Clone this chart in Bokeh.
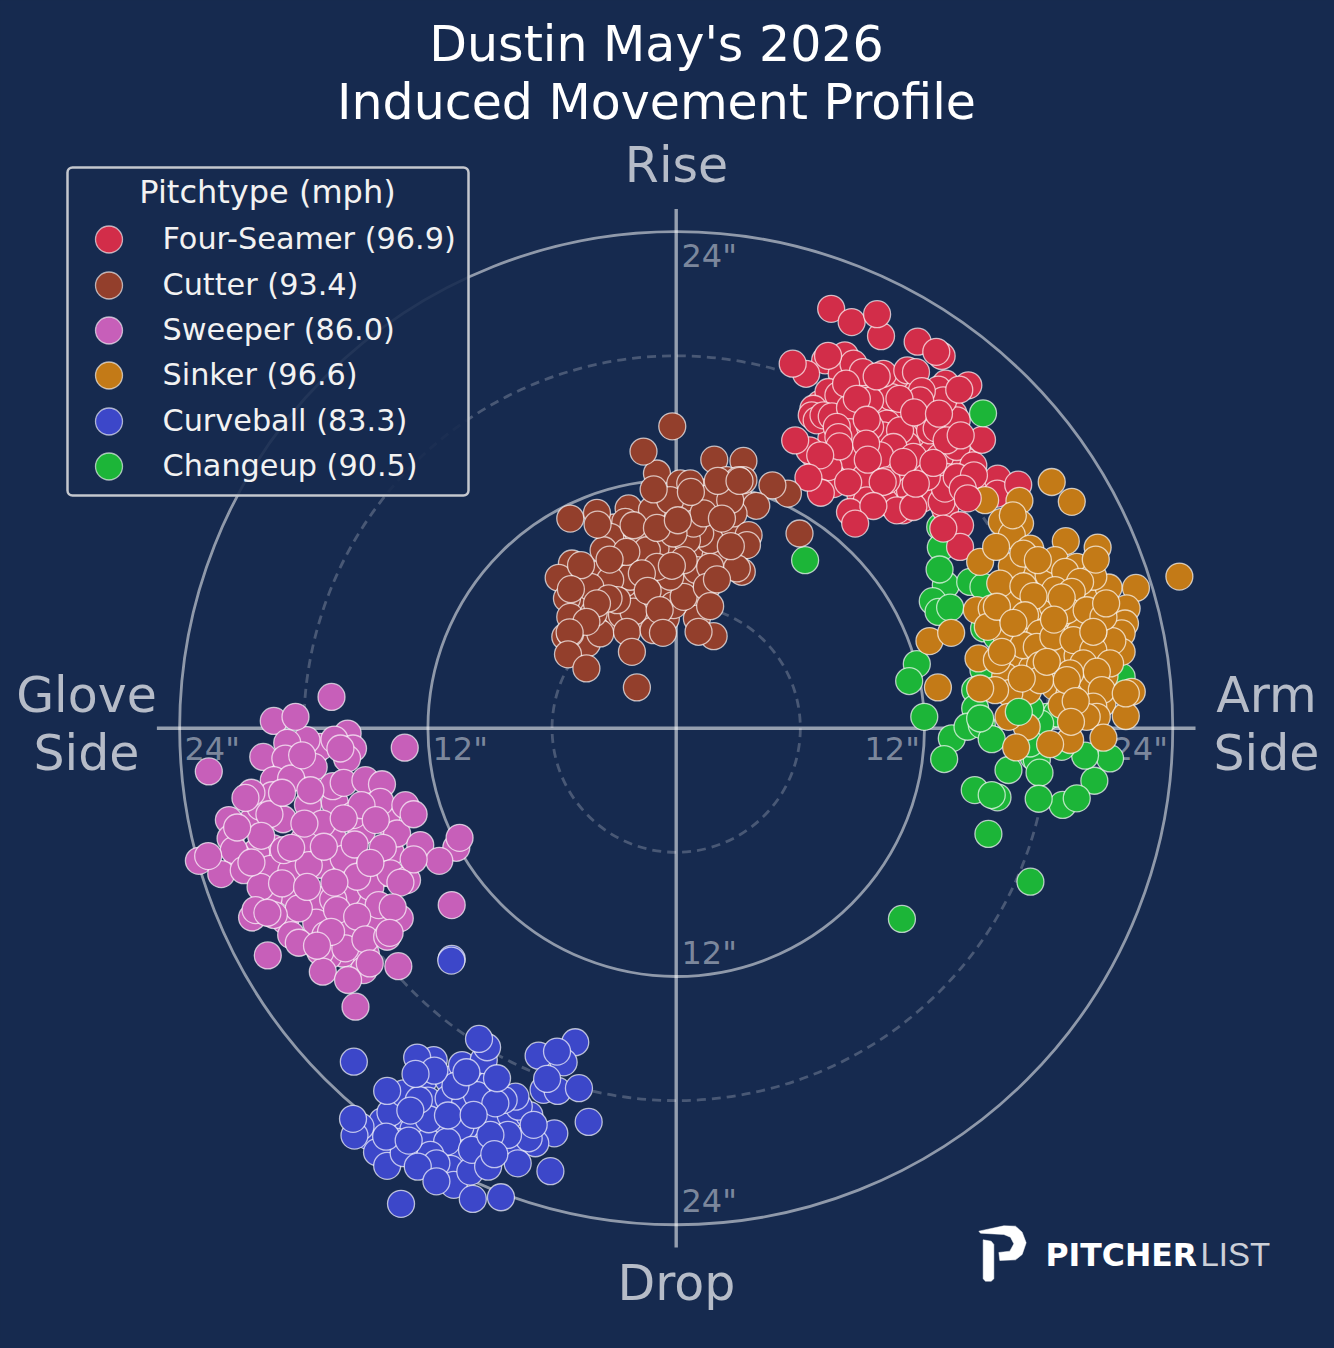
from bokeh.plotting import figure
from bokeh.models import Range1d
from bokeh.core.properties import value
from bokeh.embed import file_html
from bokeh.resources import INLINE

# horizontal / vertical induced movement in inches, bottom of each stack first
four_seamer_hidden = [
(7.9,15.0),(9.0,15.2),(10.0,15.4),(11.0,15.1),(8.7,14.0),(9.7,13.6),(10.9,14.9),(11.9,13.4),(12.9,14.7),(8.2,13.3),
(9.2,12.5),(10.6,12.2),(11.2,12.9),(12.7,12.4),(7.9,12.2),(8.9,11.3),(10.0,11.2),(11.9,11.1),(13.0,10.6),(9.7,16.4),
(10.6,16.6),(12.3,15.5),(13.4,15.2),(8.9,16.8),(10.3,15.1),(14.0,12.9),(13.2,13.0),(14.6,11.7),(11.4,14.2),(9.5,14.0),
(8.0,14.9),(7.6,11.8),(8.3,15.8),(9.0,16.2),(10.4,16.0),(7.5,14.0),(8.4,12.0),(10.9,11.7),
]
four_seamer = [
(6.96,15.68),(7.20,17.78),(8.15,18.02),(8.00,17.13),(8.57,17.62),(10.01,17.13),(11.17,17.29),(13.02,16.65),
(7.36,16.25),(7.84,16.09),(9.37,15.84),(12.67,16.36),(6.63,15.44),(6.55,15.12),(6.79,14.88),(7.12,15.12),
(7.52,15.07),(8.40,15.49),(10.18,14.72),(12.11,14.88),(8.40,14.31),(10.01,14.15),(11.14,13.67),(12.27,14.39),
(12.59,14.48),(10.82,14.39),(10.50,13.59),(9.85,12.62),(6.63,13.27),(8.57,12.95),(9.85,13.19),(11.87,12.62),
(12.75,13.11),(13.07,12.14),(13.56,13.59),(7.36,12.62),(9.13,12.14),(11.30,11.50),(9.21,11.01),(10.98,10.53),
(10.09,10.93),(10.66,10.53),(11.46,10.69),(12.83,10.93),(12.99,11.58),(13.72,9.81),(13.72,8.76),(8.40,10.45),
(14.36,12.70),(15.54,12.06),(15.52,11.34),(16.53,11.77),(14.12,16.57),(12.83,17.99),(11.67,18.68),(9.90,18.95),
(6.28,17.13),(6.44,13.43),(5.75,13.91),(6.99,11.38),(14.78,13.94),(13.56,14.88),(13.07,13.91),(11.46,13.11),
(7.76,14.56),(9.37,14.56),(11.62,16.17),(12.91,15.84),(10.18,11.98),(12.11,12.14),(13.56,12.14),
(7.49,20.27),(8.48,19.63),(9.71,20.01),(12.57,18.19),(5.63,17.62),(7.34,18.00),(9.02,17.21),(9.69,17.00),
(11.59,17.21),(13.68,16.36),(11.87,16.29),(8.21,16.65),(11.79,15.84),(8.73,15.92),(10.79,15.92),(11.50,15.26),
(12.70,15.20),(9.21,14.91),(7.84,14.07),(7.89,13.62),(9.18,13.75),(6.96,13.19),(13.75,14.15),(9.26,12.98),
(10.98,12.87),(12.43,12.82),(14.39,12.22),(6.39,12.11),(8.31,11.88),(9.98,11.90),(11.58,11.82),(9.53,10.74),
(8.65,9.89),(12.91,9.65),
]
four_seamer_late = [(13.85,11.58),(14.09,11.11)]

cutter_hidden = [
(-4.6,6.6),(-4.3,5.9),(-3.3,5.3),(-2.6,5.9),(-1.8,6.2),(-0.8,6.7),(0.2,7.0),(0.9,6.0),(-0.3,8.6),(-2.5,7.0),
(-3.5,7.6),(-2.6,8.0),(-1.0,8.7),(0.7,8.6),(1.9,8.3),(2.9,8.6),(2.6,9.8),(1.6,10.2),(-0.4,10.5),(-1.9,10.2),
(-3.0,9.7),(0.8,10.7),(1.2,11.4),(-4.7,5.0),(-3.9,4.8),(-1.5,5.2),(-0.5,5.3),(1.0,5.3),(2.2,8.1),(-2.0,8.8),
(-3.0,8.9),(-0.4,6.3),(-4.7,7.2),(3.2,10.9),
]
cutter = [
(1.84,12.98),(3.25,12.92),(-0.93,12.31),(-1.58,13.37),(-0.19,14.59),(5.40,11.34),(4.65,11.74),(5.96,9.41),
(3.87,10.75),(-5.12,10.13),(-3.83,10.41),(-2.30,10.62),(-2.46,9.97),(0.20,11.83),(0.68,11.83),(1.72,11.18),
(2.45,11.99),(3.25,11.99),(3.01,11.99),(2.77,10.38),(3.50,9.33),(3.42,8.85),(3.17,7.56),(2.93,7.72),
(1.64,9.09),(1.16,9.41),(0.52,9.09),(0.84,9.89),(-0.13,9.41),(-1.58,9.09),(-3.19,9.25),(-1.17,10.54),
(-0.29,11.02),(1.32,10.38),(2.61,11.02),(-3.51,8.60),(-5.04,7.96),(-5.68,7.27),(-5.28,6.27),(-5.12,5.38),
(-5.36,4.42),(-4.31,4.10),(-3.67,4.58),(-5.12,4.58),(-2.62,5.47),(-2.06,5.63),(-2.38,4.66),(-1.09,4.74),
(-0.13,5.95),(1.00,7.64),(1.64,7.80),(0.36,6.35),(1.48,6.83),(-0.29,7.32),(-1.42,8.60),(-2.22,7.32),
(-3.19,7.16),(-4.15,6.83),(-3.99,5.55),(-2.86,6.19),(-0.93,7.80),(0.36,8.12),(1.81,4.45),
(0.71,11.42),(-1.09,11.54),(2.01,11.95),(3.06,11.95),(-3.80,9.84),(-2.06,9.81),(-0.93,9.68),(0.08,10.05),
(2.21,10.13),(2.64,8.80),(-2.41,8.52),(-3.22,8.15),(-4.60,7.88),(-0.21,7.85),(-1.66,7.48),(1.97,7.19),
(-5.09,6.72),(-1.38,6.64),(-3.27,6.27),(-3.83,6.03),(-0.80,5.71),(1.64,5.90),(-4.34,5.14),(-5.15,4.63),
(1.08,4.66),(-0.64,4.61),(-2.14,3.69),(-5.23,3.57),(-4.34,2.89),(-1.90,1.97),
]

sweeper_hidden = [
(-20.5,-4.5),(-19.0,-4.4),(-17.8,-3.7),(-16.5,-3.6),(-16.6,-5.3),(-18.0,-5.4),(-19.5,-5.8),(-20.3,-6.0),(-19.6,-6.8),
(-18.6,-6.9),(-17.2,-6.6),(-15.9,-6.9),(-15.2,-5.0),(-13.8,-6.0),(-14.9,-8.6),(-15.9,-8.0),(-17.3,-8.3),(-18.6,-8.0),
(-19.7,-8.2),(-17.4,-9.4),(-15.9,-9.6),(-14.5,-9.6),(-18.0,-2.4),(-17.5,-1.2),(-19.3,-1.9),(-16.6,-2.8),(-15.6,-4.2),
(-14.0,-4.5),(-21.2,-6.2),(-14.2,-7.0),(-18.9,-9.3),(-17.2,-0.9),(-20.1,-3.8),(-16.1,-10.9),(-15.0,-10.9),(-16.8,-11.0),
]
sweeper = [
(-16.66,1.51),(-19.45,0.35),(-15.88,-0.26),(-17.87,-0.58),(-18.80,-0.71),(-16.52,-0.55),(-15.62,-0.98),
(-15.91,-1.47),(-13.12,-0.94),(-22.59,-2.09),(-19.96,-1.39),(-18.89,-1.47),(-17.52,-1.87),(-19.45,-2.51),
(-18.61,-2.43),(-19.53,-3.24),(-20.53,-3.12),(-20.82,-3.37),(-16.07,-2.64),(-15.02,-2.51),(-14.22,-2.71),
(-14.30,-3.56),(-13.09,-3.72),(-15.21,-3.72),(-17.11,-4.61),(-19.66,-4.16),(-21.62,-4.44),(-21.54,-5.33),
(-20.06,-5.20),(-13.49,-5.09),(-12.37,-5.65),(-14.18,-5.78),(-18.97,-5.89),(-21.38,-5.89),(-10.63,-5.78),
(-11.45,-6.41),(-16.07,-6.30),(-17.76,-6.62),(-23.07,-6.41),(-21.99,-7.05),(-20.90,-6.86),(-20.09,-7.67),
(-14.78,-7.67),(-13.81,-7.02),(-13.01,-7.34),(-15.42,-7.18),(-18.24,-8.71),(-16.58,-8.28),(-16.39,-8.79),
(-14.38,-8.55),(-13.36,-9.19),(-15.42,-9.11),(-20.50,-9.15),(-20.33,-8.79),(-19.45,-9.03),(-18.61,-10.00),
(-18.24,-10.37),(-16.95,-10.00),(-17.20,-10.80),(-15.99,-10.64),(-15.02,-10.21),(-13.97,-10.08),(-19.74,-10.98),
(-17.08,-11.77),(-15.10,-11.69),(-13.43,-11.50),(-10.85,-8.55),
(-18.40,0.55),(-16.23,-0.98),(-18.08,-1.31),(-19.05,-3.12),(-17.68,-3.00),(-16.07,-4.36),(-12.69,-4.16),
(-14.52,-4.44),(-17.97,-4.61),(-21.22,-4.80),(-17.03,-5.73),(-15.54,-5.62),(-18.61,-5.78),(-20.53,-6.49),
(-22.62,-6.18),(-10.47,-5.30),(-12.69,-6.34),(-14.78,-6.51),(-16.52,-7.46),(-19.05,-7.50),(-17.84,-7.67),
(-13.33,-7.46),(-13.70,-8.66),(-19.76,-8.92),(-16.68,-9.84),(-17.36,-10.51),(-13.85,-9.89),(-14.81,-11.37),
(-15.86,-12.17),(-15.50,-13.46),
]

sinker_hidden = [
(17.0,7.4),(18.0,7.4),(19.0,7.0),(20.0,6.4),(20.9,6.8),(16.2,6.0),(17.4,5.5),(19.0,5.4),(21.1,5.5),(15.9,4.6),
(16.9,4.6),(19.0,4.3),(18.4,3.5),(19.4,3.5),(20.5,4.2),(20.0,2.5),(16.5,3.3),(15.9,2.5),(17.0,1.8),(18.3,2.0),
(19.5,2.0),(20.7,2.5),(19.0,1.6),(20.6,1.2),(18.2,5.9),(18.0,4.8),(17.2,2.9),(16.1,1.7),
]
sinker = [
(18.15,11.90),(19.12,10.94),(14.93,11.02),(16.59,10.99),(15.74,9.97),(16.62,9.89),(16.22,9.33),(14.69,8.04),
(18.83,9.04),(20.37,8.73),(22.22,6.78),(24.32,7.33),(21.77,5.79),(21.69,5.06),(21.53,4.58),(21.53,3.69),
(21.08,4.21),(20.16,4.66),(19.52,4.66),(16.22,7.83),(17.11,8.68),(16.78,8.44),(18.31,8.12),(19.36,7.80),
(18.80,7.56),(20.16,7.32),(19.52,7.07),(15.66,6.99),(16.78,6.86),(18.31,6.67),(19.12,6.59),(17.27,6.38),
(14.53,5.71),(15.25,5.79),(15.06,4.90),(16.86,5.46),(17.59,4.58),(18.88,5.70),(19.84,5.70),(20.65,5.38),
(12.24,4.21),(13.29,4.61),(12.65,1.97),(14.61,3.37),(15.50,3.29),(16.78,4.01),(17.43,3.93),(18.23,4.42),
(19.20,4.26),(20.16,3.77),(20.97,3.13),(19.68,3.13),(19.04,2.65),(20.33,2.73),(17.59,3.05),(17.59,2.32),
(20.57,1.84),(22.02,1.76),(21.73,0.59),(18.63,1.12),(20.16,1.04),(20.33,0.55),(19.84,0.55),(19.04,-0.57),
(16.94,0.07),(16.06,0.55),(15.41,1.84),
(16.27,10.29),(15.46,8.76),(20.28,8.15),(17.48,8.12),(18.63,6.32),(20.78,6.03),(15.50,5.87),(16.30,5.09),
(18.26,5.25),(20.16,4.66),(15.74,3.69),(17.91,3.21),(16.70,2.40),(18.88,2.32),(21.73,1.68),(19.31,1.31),
(19.08,0.31),(20.65,-0.46),(18.07,-0.77),(16.43,-0.93),(14.69,1.92),
]

curveball_hidden = [
(-12.2,-17.0),(-11.0,-17.0),(-9.7,-16.7),(-9.0,-17.2),(-13.1,-18.9),(-12.0,-18.0),(-11.0,-17.9),(-10.2,-18.1),
(-9.0,-18.7),(-8.0,-18.7),(-7.1,-18.7),(-12.7,-19.4),(-11.5,-19.3),(-10.0,-19.6),(-9.2,-20.1),(-7.7,-20.1),
(-12.0,-20.0),(-10.6,-20.6),(-13.5,-20.0),(-12.7,-20.7),(-10.9,-21.3),(-14.9,-19.7),(-14.2,-19.0),
]
curveball = [
(-10.85,-11.15),(-15.58,-16.12),(-11.72,-16.04),(-10.35,-16.28),(-9.30,-16.04),(-9.14,-15.42),(-4.88,-15.18),
(-6.65,-15.83),(-5.44,-16.15),(-6.41,-17.48),(-5.73,-17.53),(-4.23,-19.03),(-5.89,-19.58),(-6.81,-20.06),
(-7.13,-19.82),(-7.61,-18.29),(-7.77,-17.81),(-8.34,-17.97),(-9.63,-17.73),(-10.43,-19.26),(-11.96,-18.90),
(-11.07,-19.98),(-13.81,-18.58),(-13.17,-17.65),(-12.44,-17.97),(-15.26,-19.26),(-15.55,-19.69),(-14.46,-20.49),
(-13.97,-21.15),(-13.17,-20.54),(-11.88,-20.62),(-11.59,-21.03),(-10.75,-22.07),(-9.95,-21.43),(-9.87,-20.38),
(-9.09,-21.19),(-7.66,-21.03),(-6.08,-21.41),(-13.30,-22.99),(-12.52,-15.92),
(-9.53,-15.02),(-5.76,-15.63),(-6.24,-16.95),(-4.70,-17.40),(-6.89,-19.17),(-8.13,-19.66),(-8.98,-19.66),
(-8.74,-18.13),(-10.67,-17.29),(-11.69,-16.55),(-12.60,-16.71),(-13.97,-17.53),(-12.85,-18.48),(-11.03,-18.72),
(-9.79,-18.69),(-15.62,-18.88),(-14.02,-19.74),(-12.93,-19.93),(-12.49,-21.19),(-11.59,-21.90),(-9.83,-22.75),
(-8.47,-22.67),(-8.79,-20.59),(-10.14,-16.63),(-8.66,-16.92),(-10.87,-11.23),
]

changeup = [
(12.76,9.73),(12.79,8.73),(13.03,6.91),(12.40,6.14),(12.68,5.62),(14.21,7.07),(14.85,6.83),(11.63,3.10),
(14.88,4.82),(15.50,4.42),(14.85,2.81),(14.45,1.84),(14.45,0.96),(13.32,-0.49),(14.08,0.07),(14.77,0.15),
(15.25,-0.53),(16.06,-2.02),(17.27,-1.38),(17.43,-1.54),(17.56,-2.15),(18.68,-3.71),(17.52,-3.41),(20.21,-2.54),
(20.97,-1.46),(19.76,-1.33),(18.63,-0.90),(14.43,-2.99),(15.53,-3.34),(15.25,-3.23),(15.09,-5.11),(17.12,-7.42),
(10.91,-9.22),(16.78,1.68),(16.30,2.24),(17.91,0.55),(18.39,0.71),(17.59,0.23),(17.10,-0.74),(21.53,2.48),
(20.81,3.29),(20.33,5.06),(17.11,0.96),(12.73,7.67),(13.24,5.83),(11.26,2.28),(11.99,0.55),(12.95,-1.49),
(19.36,-3.39),(6.23,8.12),
]
changeup_late = [(14.83,15.22),(14.69,0.47),(16.56,0.79)]

ring_solid = [12, 24]
ring_dashed = [6, 18]
legend_labels = ["Four-Seamer (96.9)", "Cutter (93.4)", "Sweeper (86.0)",
                 "Sinker (96.6)", "Curveball (83.3)", "Changeup (90.5)"]
legend_colors = ["#d22d49", "#933f2c", "#c75fb9", "#c37a17", "#3c47c9", "#1cb538"]
FS, CT, SW, SI, CU, CH = legend_colors

BG = "#162a4f"
S = 20.69
CX, CY = 675.7, 727.7
dx = lambda px: (px - CX) / S
dy = lambda py: (CY - py) / S

p = figure(width=1326, height=1340, output_backend="svg", toolbar_location=None,
           x_range=Range1d(dx(0), dx(1326)), y_range=Range1d(dy(1340), dy(0)),
           min_border=0, outline_line_color=None, background_fill_color=BG,
           border_fill_color=BG)
p.axis.visible = False
p.grid.visible = False

GRID = "#ffffff"
p.circle(x=[0, 0], y=[0, 0], radius=ring_solid, fill_color=None, line_color=GRID,
         line_alpha=0.52, line_width=2.8)
p.circle(x=[0, 0], y=[0, 0], radius=ring_dashed, fill_color=None, line_color=GRID,
         line_alpha=0.22, line_width=2.8, line_dash="9 6")
p.segment(x0=[-25.1, 0], y0=[0, -25.1], x1=[25.1, 0], y1=[0, 25.1], line_color=GRID,
          line_alpha=0.55, line_width=3.4)

# ring values
FONT = value("DejaVu Sans")
tick_x = [dx(184), dx(432), dx(864), dx(1112), dx(681), dx(681), dx(681)]
tick_y = [dy(748), dy(748), dy(748), dy(748), dy(255), dy(952), dy(1200)]
tick_text = ['24"', '12"', '12"', '24"', '24"', '12"', '24"']
p.text(x=tick_x, y=tick_y, text=tick_text, text_font=FONT, text_font_size="32px",
       text_color="#ffffff", text_alpha=0.45, text_baseline="middle", text_align="left")


def pts(name_list, color):
    xs = [a for a, _ in name_list]
    ys = [b for _, b in name_list]
    p.scatter(x=xs, y=ys, size=27, fill_color=color, line_color="#ffffff",
              line_alpha=0.68, line_width=1.3)


pts(changeup, CH)
pts(four_seamer_hidden, FS)
pts(four_seamer, FS)
pts(cutter_hidden, CT)
pts(cutter, CT)
pts(sweeper_hidden, SW)
pts(sweeper, SW)
pts(sinker_hidden, SI)
pts(sinker, SI)
pts(four_seamer_late, FS)
pts(curveball_hidden, CU)
pts(curveball, CU)
pts(changeup_late, CH)

# titles and direction labels
p.text(x=[dx(656), dx(656)], y=[dy(44), dy(102)],
       text=["Dustin May's 2026", "Induced Movement Profile"], text_font=FONT,
       text_font_size="49px", text_color="#ffffff", text_align="center", text_baseline="middle")
LAB = "#b6bcc8"
p.text(x=[dx(676), dx(676), dx(86), dx(86), dx(1266), dx(1266)],
       y=[dy(165), dy(1283), dy(695), dy(753), dy(695), dy(753)],
       text=["Rise", "Drop", "Glove", "Side", "Arm", "Side"], text_font=FONT,
       text_font_size="49px", text_color=LAB, text_align="center", text_baseline="middle")

# legend
p.rect(x=[dx(267.5)], y=[dy(331)], width=(468 - 67) / S, height=(495 - 167) / S,
       fill_color=BG, fill_alpha=0.9, line_color="#c4c7ce", line_width=2.5, border_radius=5)
p.text(x=[dx(267)], y=[dy(191)], text=["Pitchtype (mph)"], text_font=FONT, text_font_size="32px",
       text_color="#f2f2f2", text_align="center", text_baseline="middle")
leg_y = [dy(v) for v in (239, 285, 330, 375, 421, 466)]
p.scatter(x=[dx(108.5)] * 6, y=leg_y, size=27, fill_color=legend_colors, line_color="#ffffff",
          line_alpha=0.62, line_width=1.3)
p.text(x=[dx(162)] * 6, y=[v + 0.05 for v in leg_y], text=legend_labels, text_font=FONT, text_font_size="30.3px",
       text_color="#f2f2f2", text_align="left", text_baseline="middle")

# logo
lx = lambda z: dx(960 + z / 3)
ly = lambda z: dy(1210 + z / 3)
bowl = [(55, 62), (130, 46), (165, 47), (185, 65), (197, 97), (185, 132), (165, 148), (118, 150),
        (115, 126), (148, 122), (160, 100), (150, 80), (130, 72), (60, 68)]
stem = [(68, 88), (92, 92), (100, 102), (100, 205), (92, 212), (75, 212), (68, 205)]
for shape in (bowl, stem):
    p.patch(x=[lx(a) for a, _ in shape], y=[ly(b) for _, b in shape], fill_color="#ffffff",
            line_color="#ffffff", line_width=0.5)
p.text(x=[dx(1045)], y=[dy(1254)], text=["PITCHER"], text_font=FONT, text_font_style="bold",
       text_font_size="31.5px", text_color="#ffffff", text_align="left", text_baseline="middle")
p.text(x=[dx(1200)], y=[dy(1254)], text=["LIST"], text_font=value("Liberation Sans"),
       text_font_size="33px", text_color="#ffffff", text_alpha=0.8, text_align="left", text_baseline="middle")

html = file_html(p, INLINE)
html = html.replace("</head>", "<style>html,body{background:%s;}</style></head>" % BG, 1)
open("out.html", "w").write(html)
